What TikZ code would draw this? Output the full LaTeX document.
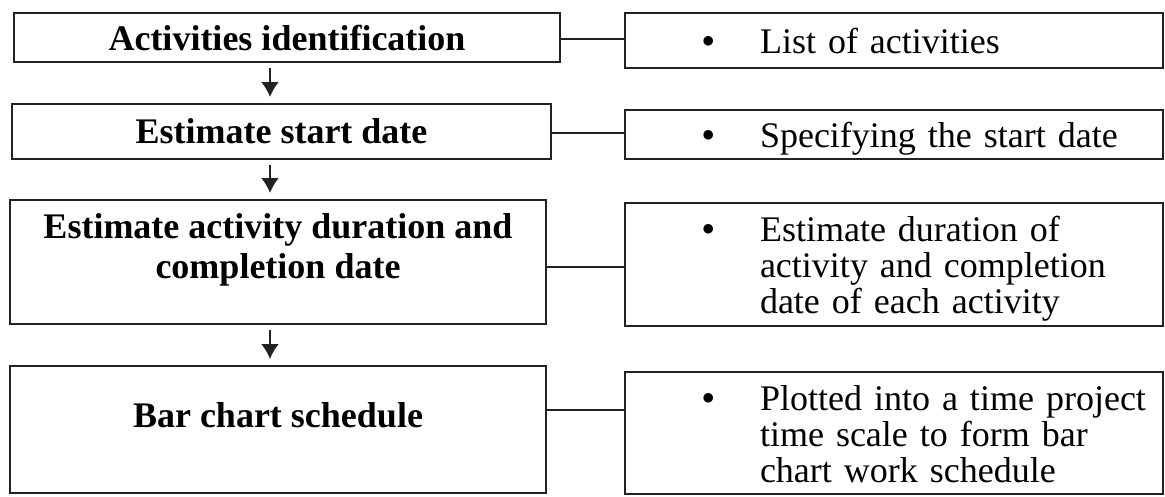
\documentclass[tikz,border=0pt]{standalone}
\usepackage{fontspec}
\setmainfont{Liberation Serif}
\usetikzlibrary{arrows.meta,calc,positioning}
\definecolor{ink}{HTML}{222222}
\tikzstyle{stage} = [draw=ink, line width=2pt, inner sep=0pt, align=center,
   font=\bfseries\fontsize{36}{40}\selectfont]
\tikzstyle{stagetext} = [inner sep=0pt, align=center, font=\bfseries\fontsize{36}{40}\selectfont]
\tikzstyle{note} = [draw=ink, line width=2pt, inner sep=0pt, text width=538pt,
   minimum width=538pt, align=left, font=\fontsize{36}{36}\selectfont]
\tikzstyle{link} = [draw=ink, line width=1.5pt]
\tikzstyle{flow} = [draw=ink, line width=2.2pt, -{Latex[length=15pt,width=18pt]},
   shorten <=5pt, shorten >=6pt]
\newcommand{\bul}{\raisebox{6pt}{\fontsize{46}{46}\selectfont$\bullet$}}
\newcommand{\noteitem}[1]{\hspace*{77pt}%
   \raisebox{-6pt}[\height][\depth]{\begin{tabular}{@{}l@{}l@{}}\makebox[58pt][l]{\bul} & #1\end{tabular}}}

\begin{document}
\begin{tikzpicture}[x=1pt,y=-1pt]

\useasboundingbox (0,0) rectangle (1165,496);

% left column: the steps
\node[stage, minimum width=546pt, minimum height=49pt] (act) at (287,37.5) {Activities identification};
\node[stage, minimum width=539pt, minimum height=55pt] (start) at (281.5,131.5) {Estimate start date};
\node[stage, minimum width=536pt, minimum height=124pt] (dur) at (278,262) {};
\node[stagetext] (durtxt) at (278,249.5) {Estimate activity duration and\\completion date};
\node[stage, minimum width=536pt, minimum height=127pt] (bar) at (278,429.5) {};
\node[stagetext] (bartxt) at (278,415) {Bar chart schedule};

% right column: what each step gives
\node[note, minimum height=55pt] (list) at (894,40.5) {\noteitem{List of activities}};
\node[note, minimum height=49pt] (spec) at (894,134.5) {\noteitem{Specifying the start date}};
\node[note, minimum height=123pt] (each) at (894,264.5)
	{\noteitem{Estimate duration of\\ & activity and completion\\ & date of each activity}};
\node[note, minimum height=122pt] (plot) at (894,433)
	{\noteitem{Plotted into a time project\\ & time scale to form bar\\ & chart work schedule}};

% arrows down the steps
\coordinate (ax) at (270,0);
\draw[flow] (act.south -| ax) -- (start.north -| ax);
\draw[flow] (start.south -| ax) -- (dur.north -| ax);
\draw[flow] (dur.south -| ax) -- (bar.north -| ax);

% links across
\coordinate (c1) at ($(act.north east)!0.53!(act.south east)$);
\coordinate (c2) at ($(start.north east)!0.53!(start.south east)$);
\coordinate (c3) at ($(dur.north east)!0.54!(dur.south east)$);
\coordinate (c4) at ($(bar.north east)!0.35!(bar.south east)$);
\draw[link] (c1) -- (c1 -| list.west);
\draw[link] (c2) -- (c2 -| spec.west);
\draw[link] (c3) -- (c3 -| each.west);
\draw[link] (c4) -- (c4 -| plot.west);

\end{tikzpicture}
\end{document}
